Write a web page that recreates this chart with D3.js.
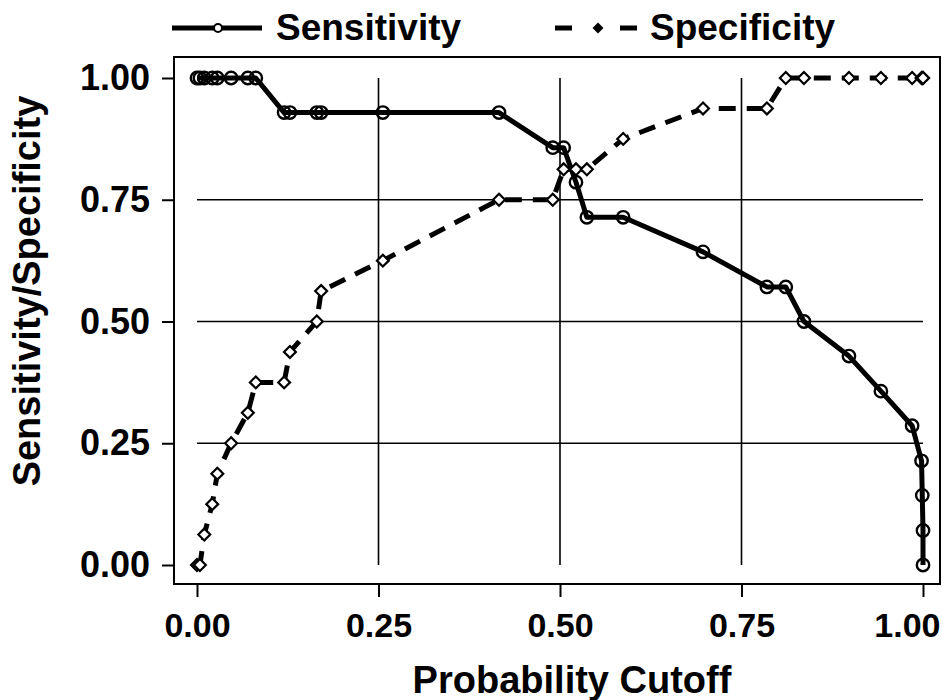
<!DOCTYPE html>
<html lang="en">
<head>
  <meta charset="UTF-8">
  <title>Sensitivity / Specificity vs cutoff</title>
  <style>
    body, html { margin: 0; padding: 0; background: #fff; }
    svg { display: block; }
    text { font-family: "Liberation Sans", Arial, sans-serif; font-weight: bold; fill: #000; }
  </style>
</head>
<body>
  <svg id="svg" width="942" height="700"></svg>
  <script src="https://d3js.org/d3.v7.min.js"></script>
  <script>
    // probability cutoffs and the two curves read at each of them
    const cutoff = [0.000, 0.004, 0.010, 0.021, 0.028, 0.047, 0.070, 0.081, 0.120, 0.128,
                    0.165, 0.171, 0.256, 0.416, 0.490, 0.505, 0.522, 0.537, 0.587, 0.697,
                    0.785, 0.811, 0.836, 0.898, 0.942, 0.985, 0.998, 0.999, 1.000, 1.000]
    const sensitivity = [1, 1, 1, 1, 1, 1, 1, 1, 0.929, 0.929,
                         0.929, 0.929, 0.929, 0.929, 0.857, 0.857, 0.786, 0.714, 0.714, 0.643,
                         0.571, 0.571, 0.5, 0.429, 0.357, 0.286, 0.214, 0.143, 0.071, 0]
    const specificity = [0, 0, 0.0625, 0.125, 0.1875, 0.25, 0.3125, 0.375, 0.375, 0.4375,
                         0.5, 0.5625, 0.625, 0.75, 0.75, 0.8125, 0.8125, 0.8125, 0.875, 0.9375,
                         0.9375, 1, 1, 1, 1, 1, 1, 1, 1, 1]
    const ticks = [0, 0.25, 0.5, 0.75, 1]
    const gridTicks = [0.25, 0.5, 0.75]

    const svg = d3.select("#svg")

    const x = d3.scaleLinear().domain([0, 1]).range([197, 923])
    const y = d3.scaleLinear().domain([0, 1]).range([565, 78])

    // plot frame
    svg.append('rect')
      .attr('x', 174).attr('y', 57)
      .attr('width', 766).attr('height', 527)
      .attr('fill', 'none').attr('stroke', '#000').attr('stroke-width', 2)

    // grid lines, only inside the data range
    const grid = svg.append('g').attr('stroke', '#000').attr('stroke-width', 1.6)
    grid.selectAll('.h').data(gridTicks).enter().append('line')
      .attr('x1', x(0)).attr('x2', x(1))
      .attr('y1', d => y(d)).attr('y2', d => y(d))
    grid.selectAll('.v').data(gridTicks).enter().append('line')
      .attr('y1', y(0)).attr('y2', y(1))
      .attr('x1', d => x(d)).attr('x2', d => x(d))

    // axes
    const fmt = d3.format('.2f')
    const yAxis = svg.append('g')
      .attr('transform', 'translate(174,0)')
      .call(d3.axisLeft(y).tickValues(ticks).tickFormat(fmt).tickSize(12).tickPadding(12))
    const xAxis = svg.append('g')
      .attr('transform', 'translate(0,584)')
      .call(d3.axisBottom(x).tickValues(ticks).tickFormat(fmt).tickSize(13).tickPadding(16))
    ;[xAxis, yAxis].forEach(a => {
      a.select('.domain').remove()
      a.selectAll('line').attr('stroke', '#000').attr('stroke-width', 2)
      a.selectAll('text').style('font-size', '36px')
        .style('font-family', '"Liberation Sans", Arial, sans-serif').style('font-weight', 'bold')
    })
    // x labels are a bit narrower; the last one is pulled in to stay on the page
    xAxis.selectAll('text').style('font-size', '34px')
    xAxis.selectAll('.tick').filter(d => d === 1).select('text')
      .attr('text-anchor', 'end').attr('x', 17)

    // axis titles
    svg.append('text')
      .attr('x', 572).attr('y', 693)
      .attr('text-anchor', 'middle')
      .style('font-size', '38px')
      .text('Probability Cutoff')
    svg.append('text')
      .attr('transform', 'translate(40,291) rotate(-90)')
      .attr('text-anchor', 'middle')
      .style('font-size', '38px')
      .text('Sensitivity/Specificity')

    const pts = cutoff.map((c, i) => ({ c: c, sens: sensitivity[i], spec: specificity[i] }))

    // specificity: dashed line with open diamonds
    svg.append('path')
      .datum(pts)
      .attr('d', d3.line().x(d => x(d.c)).y(d => y(d.spec)))
      .attr('fill', 'none').attr('stroke', '#000')
      .attr('stroke-width', 5).attr('stroke-dasharray', '17,11')

    // sensitivity: solid line with open circles
    svg.append('path')
      .datum(pts)
      .attr('d', d3.line().x(d => x(d.c)).y(d => y(d.sens)))
      .attr('fill', 'none').attr('stroke', '#000')
      .attr('stroke-width', 5).attr('stroke-linejoin', 'round')

    const diamond = d3.symbol().type(d3.symbolDiamond2).size(90)
    svg.append('g').selectAll('path').data(pts).enter().append('path')
      .attr('d', diamond)
      .attr('transform', d => `translate(${x(d.c)},${y(d.spec)})`)
      .attr('fill', '#fff').attr('stroke', '#000').attr('stroke-width', 2.2)

    svg.append('g').selectAll('circle').data(pts).enter().append('circle')
      .attr('cx', d => x(d.c)).attr('cy', d => y(d.sens))
      .attr('r', 6.2)
      .attr('fill', 'none').attr('stroke', '#000').attr('stroke-width', 2.4)

    // legend
    const legend = svg.append('g')
    legend.append('line')
      .attr('x1', 172).attr('x2', 262).attr('y1', 28).attr('y2', 28)
      .attr('stroke', '#000').attr('stroke-width', 5)
    legend.append('circle')
      .attr('cx', 218).attr('cy', 28).attr('r', 4)
      .attr('fill', '#fff').attr('stroke', '#000').attr('stroke-width', 2)
    legend.append('text')
      .attr('x', 276).attr('y', 40)
      .style('font-size', '37px')
      .text('Sensitivity')

    legend.append('line')
      .attr('x1', 555).attr('x2', 638).attr('y1', 28).attr('y2', 28)
      .attr('stroke', '#000').attr('stroke-width', 5).attr('stroke-dasharray', '17,48')
    legend.append('path')
      .attr('d', d3.symbol().type(d3.symbolDiamond2).size(50))
      .attr('transform', 'translate(598,28)')
      .attr('fill', '#000').attr('stroke', '#000').attr('stroke-width', 1.5)
    legend.append('text')
      .attr('x', 650).attr('y', 40)
      .style('font-size', '37px')
      .text('Specificity')
  </script>
</body>
</html>
